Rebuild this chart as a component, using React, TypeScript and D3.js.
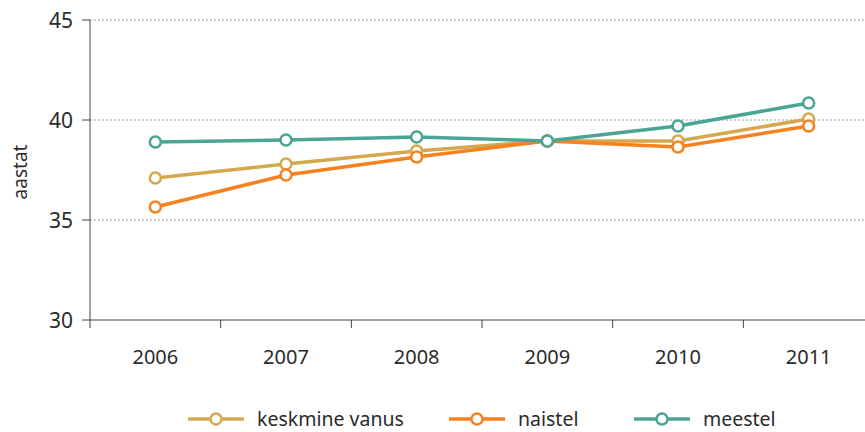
import { scaleBand, scaleLinear, line } from "d3";

const years = ["2006", "2007", "2008", "2009", "2010", "2011"];
const keskmine = [37.1, 37.8, 38.45, 38.95, 38.95, 40.05];
const naistel = [35.65, 37.25, 38.15, 38.95, 38.65, 39.7];
const meestel = [38.9, 39.0, 39.15, 38.95, 39.7, 40.85];
const yTicks = [30, 35, 40, 45];

const series = [
  { name: "keskmine vanus", values: keskmine, color: "#D4A84F" },
  { name: "naistel", values: naistel, color: "#F5821F" },
  { name: "meestel", values: meestel, color: "#4AA594" },
];

const font = "'Noto Sans', 'Open Sans', sans-serif";

export default function App() {
  const width = 865;
  const height = 432;
  const left = 90;
  const top = 20;
  const bottom = 320;

  const x = scaleBand<string>().domain(years).range([left, 874]);
  const y = scaleLinear().domain([30, 45]).range([bottom, top]);
  const cx = (d: string) => (x(d) ?? 0) + x.bandwidth() / 2;

  const path = line<number>()
    .x((_, i) => cx(years[i]))
    .y((v) => y(v));

  // legend item left edges (line start)
  const legendX = [188, 449, 634];

  return (
    <svg width={width} height={height} style={{ position: "absolute", left: 0, top: 0 }} fontFamily={font}>
      {yTicks.map((t) => (
        <g key={t}>
          {t !== 30 && (
            <line x1={left} x2={width} y1={y(t)} y2={y(t)} stroke="#777" strokeDasharray="1.5 2.5" strokeWidth={1} />
          )}
          <line x1={left - 8} x2={left} y1={y(t)} y2={y(t)} stroke="#444" />
          <text x={left - 17} y={y(t)} dy="0.36em" textAnchor="end" fontSize={21} fill="#2b2b2b">
            {t}
          </text>
        </g>
      ))}
      <line x1={left} x2={left} y1={top} y2={bottom + 8} stroke="#444" />
      <line x1={left} x2={width} y1={bottom} y2={bottom} stroke="#444" />
      {years.slice(1).map((d) => (
        <line key={d} x1={x(d)} x2={x(d)} y1={bottom} y2={bottom + 8} stroke="#444" />
      ))}
      {years.map((d) => (
        <text key={d} x={cx(d)} y={357} dy="0.36em" textAnchor="middle" fontSize={20} fill="#2b2b2b">
          {d}
        </text>
      ))}
      <text transform={`translate(20, ${(top + bottom) / 2 + 2}) rotate(-90)`} textAnchor="middle" dy="0.36em" fontSize={19} fill="#2b2b2b">
        aastat
      </text>

      {series.map((s) => (
        <g key={s.name}>
          <path d={path(s.values) ?? ""} fill="none" stroke={s.color} strokeWidth={3.5} strokeLinejoin="round" />
          {s.values.map((v, i) => (
            <circle key={i} cx={cx(years[i])} cy={y(v)} r={5.5} fill="#fff" stroke={s.color} strokeWidth={2.5} />
          ))}
        </g>
      ))}

      {series.map((s, i) => (
        <g key={s.name} transform={`translate(${legendX[i]}, 419)`}>
          <line x1={0} x2={56} y1={0} y2={0} stroke={s.color} strokeWidth={3.5} />
          <circle cx={28} cy={0} r={5.5} fill="#fff" stroke={s.color} strokeWidth={2.5} />
          <text x={69} y={0} dy="0.34em" fontSize={19.5} fill="#2b2b2b">
            {s.name}
          </text>
        </g>
      ))}
    </svg>
  );
}
